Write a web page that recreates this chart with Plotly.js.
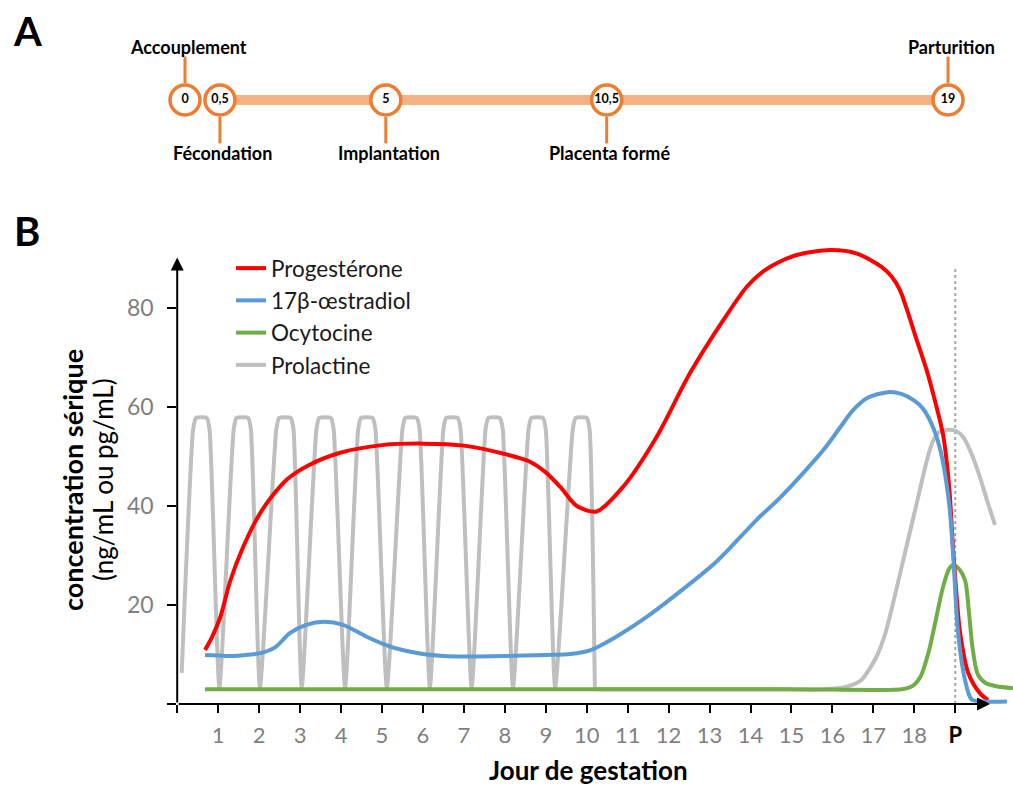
<!DOCTYPE html>
<html><head><meta charset="utf-8">
<script src="https://cdn.plot.ly/plotly-3.0.1.min.js"></script>
<style>body{margin:0;background:#fff}</style>
</head><body>
<div id="chart" style="width:1013px;height:787px"></div>
<script>
// ---------- Panel A : chronologie ----------
const eventDays   = [0, 0.5, 5, 10.5, 19];
const eventTicks  = ['0', '0,5', '5', '10,5', '19'];
const eventNames  = ['Accouplement', 'Fécondation', 'Implantation', 'Placenta formé', 'Parturition'];
const eventAbove  = [true, false, false, false, true];

// ---------- Panel B : concentrations ----------
const progDay = [0.68,0.85,1.05,1.3,1.6,1.95,2.3,2.7,3.2,4,5,6,7,8,8.6,9,9.35,9.76,10.24,10.89,11.71,12.52,13.34,13.91,14.31,14.7,15.13,15.94,16.6,17.2,17.45,17.65,18.06,18.3,18.5,18.7,18.85,18.95,19.05,19.12,19.32,19.6,19.8];
const progVal = [10.9,13.5,17.5,25,31.5,37.5,41.8,45.5,48.2,50.8,52.3,52.6,52.2,50.5,49,46.8,43.9,40,38.9,43.9,54,66.8,77.6,84.3,87.4,89.3,90.7,91.7,91,88.3,86.3,83.6,73.5,67.5,61.4,54.5,44,31,20,14.3,6.2,2.2,0.8];

const estrDay = [0.68,1,1.4,1.8,2.05,2.4,2.75,3.15,3.6,4.05,4.6,5.1,5.5,6,6.5,7,8,9,9.6,10.1,10.7,11.5,12.4,13.2,14.15,14.7,15.28,15.8,16.2,16.5,16.85,17.35,17.7,18.0,18.2,18.4,18.63,18.85,18.95,19.07,19.24,19.4,19.7,20.26];
const estrVal = [9.9,9.8,9.7,10,10.3,11.5,14.3,16,16.6,16,13.7,11.9,10.9,10.1,9.7,9.6,9.7,9.9,10.1,10.9,13.5,17.8,23.5,29,37.2,41.5,46.6,51.5,56,59.3,61.8,63,62.6,61.3,59.8,57,51.5,40.5,30,14.3,4.8,0.9,0.5,0.5];

const ocytDay = [0.68,5,10,15,17.7,17.95,18.15,18.35,18.5,18.7,18.85,18.95,19.1,19.24,19.33,19.42,19.55,19.75,20.0,20.41];
const ocytVal = [3.0,3.0,3.0,3.0,3.0,3.6,5.5,10.5,16,23.6,27.3,28.1,27.2,25,19,11.5,6,4.2,3.6,3.2];

// prolactine : pics cycliques (jours 0-10) puis pic de fin de gestation
const prolCycDay = [0.11,0.39,0.46,0.72,0.79,1.03,1.38,1.45,1.73,1.80,2.02,2.42,2.49,2.77,2.84,3.04,3.40,3.47,3.75,3.82,4.10,4.42,4.49,4.77,4.84,5.12,5.50,5.57,5.85,5.92,6.17,6.50,6.57,6.85,6.92,7.19,7.53,7.60,7.88,7.95,8.20,8.58,8.65,8.93,9.00,9.23,9.66,9.73,10.00,10.07,10.20];
const prolCycVal = [6.3,55.5,57.8,57.8,55.5,3.3,55.5,57.8,57.8,55.5,3.3,55.5,57.8,57.8,55.5,3.3,55.5,57.8,57.8,55.5,3.3,55.5,57.8,57.8,55.5,3.3,55.5,57.8,57.8,55.5,3.3,55.5,57.8,57.8,55.5,3.3,55.5,57.8,57.8,55.5,3.3,55.5,57.8,57.8,55.5,3.3,55.5,57.8,57.8,55.5,3.0];
const prolLateDay = [10.2,12,14,15.8,16.3,16.7,17.08,17.3,17.5,17.7,17.9,18.1,18.3,18.45,18.6,18.8,19.0,19.19,19.4,19.6,19.8,19.97];
const prolLateVal = [3.0,3.0,3.0,3.0,3.4,4.8,9.6,14.5,21,28,35,42,49,53,54.9,55.4,55.2,54,50.5,45.9,40.5,36.2];

const xTickVals   = [0,1,2,3,4,5,6,7,8,9,10,11,12,13,14,15,16,17,18,19];
const xTickLabels = ['','1','2','3','4','5','6','7','8','9','10','11','12','13','14','15','16','17','18','<span style="color:#000"><b>P</b></span>'];
const yTickVals   = [0,20,40,60,80];
const yTickLabels = ['','20','40','60','80'];
const partDay = 19;

// ---------- geometry (pixels of the 1013x787 figure) ----------
const W = 1013, H = 787;
const FONT = 'Lato, "Open Sans", sans-serif';
const px2x = p => p / W;
const px2y = p => (H - p) / H;

// Panel B axes
const bLeft = 177.2, bBottom = 704, bTop = 245, pxPerDay = 40.95, pxPerUnit = 4.95;
const xRangeB = [0, (W - bLeft) / pxPerDay];
const yRangeB = [0, (bBottom - bTop) / pxPerUnit];

// Panel A axes
const aZero = 185, aPxPerDay = 40.16;
const xRangeA = [-aZero / aPxPerDay, (W - aZero) / aPxPerDay];

// positions of timeline circles, nudged apart so they do not overlap
const minGap = 0.87;
const eventPos = [];
eventDays.forEach((d, i) => {
  eventPos.push(i === 0 ? d : Math.max(d, eventPos[i - 1] + minGap));
});

const ORANGE = '#ED7D31', ORANGE_L = '#F4B183';
const GRAY = '#BFBFBF';

const traces = [
  // timeline bar
  {x: [eventPos[1], eventPos[eventPos.length - 1]], y: [0, 0], xaxis: 'x2', yaxis: 'y2',
   mode: 'lines', line: {color: ORANGE_L, width: 10}, showlegend: false, hoverinfo: 'skip'},
  // timeline circles
  {x: eventPos, y: eventPos.map(() => 0), xaxis: 'x2', yaxis: 'y2',
   mode: 'markers+text', text: eventTicks.map(t => '<b>' + t + '</b>'),
   textposition: 'middle center', textfont: {family: FONT, size: 12.5, color: '#000'},
   marker: {size: 30, color: '#fff', line: {color: ORANGE, width: 3.5}},
   showlegend: false, hoverinfo: 'skip'},
  // Panel B series (draw order: gray, green, red, blue)
  {x: prolCycDay, y: prolCycVal, name: 'Prolactine', legendgroup: 'prl', mode: 'lines', legendrank: 4,
   line: {color: GRAY, width: 4, shape: 'spline', smoothing: 0.5}},
  {x: prolLateDay, y: prolLateVal, name: 'Prolactine', legendgroup: 'prl', showlegend: false, mode: 'lines',
   line: {color: GRAY, width: 4, shape: 'spline', smoothing: 0.7}},
  {x: ocytDay, y: ocytVal, name: 'Ocytocine', mode: 'lines', legendrank: 3,
   line: {color: '#70AD47', width: 4, shape: 'spline', smoothing: 0.8}},
  {x: progDay, y: progVal, name: 'Progestérone', mode: 'lines', legendrank: 1,
   line: {color: '#FF0000', width: 4, shape: 'spline', smoothing: 0.8}},
  {x: estrDay, y: estrVal, name: '17β-œstradiol', mode: 'lines', legendrank: 2,
   line: {color: '#5B9BD5', width: 4, shape: 'spline', smoothing: 0.8}}
];

const shapes = [];
const annotations = [];

// timeline connectors and labels
eventPos.forEach((p, i) => {
  const s = eventAbove[i] ? 1 : -1;
  shapes.push({type: 'line', xref: 'x2', yref: 'y2', x0: p, x1: p, y0: s * 0.24, y1: s * 0.62,
               line: {color: ORANGE, width: 3}});
  annotations.push({xref: 'x2', yref: 'y2', x: p, y: s * 0.76, text: '<b>' + eventNames[i] + '</b>',
                    showarrow: false, xanchor: 'center', yanchor: 'middle', xshift: 3,
                    font: {family: FONT, size: 18, color: '#000'}});
});

// vertical dotted line at parturition
shapes.push({type: 'line', xref: 'x', yref: 'y', x0: partDay, x1: partDay, y0: 0, y1: 88,
             line: {color: '#A6A6A6', width: 2, dash: 'dot'}, layer: 'below'});

// axis lines with arrows
annotations.push({xref: 'x', yref: 'y', axref: 'x', ayref: 'y', x: 0, y: 90.2, ax: 0, ay: 0,
                  text: '', showarrow: true, arrowhead: 2, arrowsize: 1.3, arrowwidth: 2, arrowcolor: '#000'});
annotations.push({xref: 'x', yref: 'y', axref: 'x', ayref: 'y', x: 19.85, y: 0, ax: 0, ay: 0,
                  text: '', showarrow: true, arrowhead: 2, arrowsize: 1.3, arrowwidth: 2, arrowcolor: '#000'});

// panel letters
annotations.push({xref: 'paper', yref: 'paper', x: px2x(27), y: px2y(31), xanchor: 'center', yanchor: 'middle',
                  text: '<b>A</b>', showarrow: false, font: {family: FONT, size: 40, color: '#000'}});
annotations.push({xref: 'paper', yref: 'paper', x: px2x(27), y: px2y(231), xanchor: 'center', yanchor: 'middle',
                  text: '<b>B</b>', showarrow: false, font: {family: FONT, size: 40, color: '#000'}});

// axis titles (two lines of the y title drawn separately)
annotations.push({xref: 'paper', yref: 'paper', x: px2x(72), y: px2y(480), xanchor: 'center', yanchor: 'middle',
                  textangle: -90, text: '<b>concentration sérique</b>', showarrow: false,
                  font: {family: FONT, size: 27, color: '#000'}});
annotations.push({xref: 'paper', yref: 'paper', x: px2x(103), y: px2y(480), xanchor: 'center', yanchor: 'middle',
                  textangle: -90, text: '(ng/mL ou pg/mL)', showarrow: false,
                  font: {family: FONT, size: 26, color: '#000'}});
annotations.push({xref: 'paper', yref: 'paper', x: px2x(588), y: px2y(770), xanchor: 'center', yanchor: 'middle',
                  text: '<b>Jour de gestation</b>', showarrow: false,
                  font: {family: FONT, size: 26, color: '#000'}});

const layout = {
  width: W, height: H,
  margin: {l: 0, r: 0, t: 0, b: 0},
  paper_bgcolor: '#fff', plot_bgcolor: 'rgba(0,0,0,0)',
  font: {family: FONT},
  showlegend: true,
  legend: {x: px2x(231), y: px2y(247), xanchor: 'left', yanchor: 'top',
           bgcolor: 'rgba(0,0,0,0)', font: {family: FONT, size: 22.5, color: '#1a1a1a'},
           traceorder: 'normal', itemwidth: 30},
  xaxis: {domain: [px2x(bLeft), 1], range: xRangeB, showgrid: false, zeroline: false, showline: false,
          tickmode: 'array', tickvals: xTickVals, ticktext: xTickLabels,
          ticks: 'outside', ticklen: 8, tickwidth: 2, tickcolor: '#000',
          tickfont: {family: FONT, size: 22, color: '#7F7F7F'}, ticklabelstandoff: 4, fixedrange: true},
  yaxis: {domain: [px2y(bBottom), px2y(bTop)], range: yRangeB, showgrid: false, zeroline: false, showline: false,
          tickmode: 'array', tickvals: yTickVals, ticktext: yTickLabels,
          ticks: 'outside', ticklen: 9, tickwidth: 2, tickcolor: '#000',
          tickfont: {family: FONT, size: 23, color: '#7F7F7F'}, ticklabelstandoff: 9, fixedrange: true},
  xaxis2: {domain: [0, 1], range: xRangeA, anchor: 'y2', visible: false, fixedrange: true},
  yaxis2: {domain: [px2y(170), px2y(30)], range: [-1, 1], anchor: 'x2', visible: false, fixedrange: true},
  shapes: shapes,
  annotations: annotations
};

Plotly.newPlot('chart', traces, layout, {displayModeBar: false, staticPlot: true});
</script>
</body></html>
